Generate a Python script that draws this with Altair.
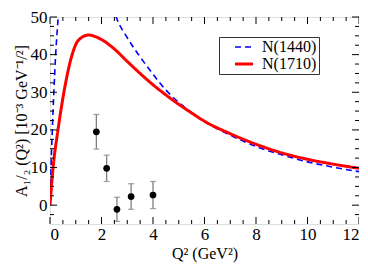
import altair as alt
import pandas as pd

# ---- data ----
q2_1440 = [0, 0.04, 0.09, 0.15, 0.22, 0.32, 0.5, 0.8, 1.2, 1.6, 2.0, 2.3, 2.57, 3.0, 3.5,
           4.0, 4.5, 5.0, 5.5, 6.0, 7.0, 8.0, 9.0, 10.0, 11.0, 12.0]
a_1440 = [0, 10, 20, 30, 40, 50, 64, 75, 78, 72, 63, 56, 50, 44.5, 39.4,
          34.8, 30.6, 27.3, 24.6, 22.2, 18.6, 15.6, 13.4, 11.5, 10.1, 8.9]

q2_1710 = [0, 0.12, 0.31, 0.54, 0.86, 1.1, 1.5, 2.0, 2.5, 3.0, 3.5, 4.0, 4.5, 5.0, 5.5,
           6.0, 7.0, 8.0, 9.0, 10.0, 11.0, 12.0]
a_1710 = [0, 10, 20, 30, 40, 43.8, 45.2, 44.0, 41.5, 38.2, 35.0, 32.0, 29.3, 26.8, 24.5,
          22.3, 19.0, 16.2, 13.9, 12.2, 10.9, 9.8]

exp_q2 = [1.8, 2.2, 2.6, 3.15, 4.0]
exp_a = [19.5, 9.8, -1.1, 2.3, 2.7]
exp_err = [4.6, 3.5, 3.2, 3.4, 3.6]

series_names = ["N(1440)", "N(1710)"]
x_major = [0, 2, 4, 6, 8, 10, 12]
x_minor = [0.5, 1, 1.5, 2.5, 3, 3.5, 4.5, 5, 5.5, 6.5, 7, 7.5, 8.5, 9, 9.5, 10.5, 11, 11.5]
y_major = [0, 10, 20, 30, 40, 50]
y_minor = [-2.5, 2.5, 5, 7.5, 12.5, 15, 17.5, 22.5, 25, 27.5, 32.5, 35, 37.5, 42.5, 45, 47.5]

W, H = 309, 207
FONT = "Liberation Serif"

curves = pd.concat([
    pd.DataFrame({"q2": q2_1440, "a": a_1440, "series": series_names[0]}),
    pd.DataFrame({"q2": q2_1710, "a": a_1710, "series": series_names[1]}),
])
exp = pd.DataFrame({"q2": exp_q2, "a": exp_a,
                    "lo": [a - e for a, e in zip(exp_a, exp_err)],
                    "hi": [a + e for a, e in zip(exp_a, exp_err)]})

xs = alt.Scale(domain=[0, 12], nice=False, zero=False)
ys = alt.Scale(domain=[-5, 50], nice=False, zero=False)

x_axis = alt.Axis(values=x_major, tickSize=0, domain=False, grid=False, labelFont=FONT,
                  labelFontSize=17, labelColor="black", labelPadding=2,
                  title="Q² (GeV²)", titleFont=FONT, titleFontSize=16,
                  titleFontWeight="normal", titleColor="black", titlePadding=3)
y_axis = alt.Axis(values=y_major, tickSize=0, domain=False, grid=False, labelFont=FONT,
                  labelFontSize=17, labelColor="black", labelPadding=3,
                  title="A₁/₂ (Q²) [10⁻³ GeV⁻¹/²]", titleFont=FONT, titleFontSize=16,
                  titleFontWeight="normal", titleColor="black", titlePadding=1)

lines = alt.Chart(curves).mark_line(clip=True, interpolate="monotone").encode(
    x=alt.X("q2:Q", scale=xs, axis=x_axis),
    y=alt.Y("a:Q", scale=ys, axis=y_axis),
    color=alt.Color("series:N", scale=alt.Scale(domain=series_names, range=["#0000ff", "#ff0000"]),
                    legend=alt.Legend(title=None, orient="none", legendX=169, legendY=20,
                                      symbolType="M-1.5,0H1.5", symbolSize=144,
                                      symbolOffset=15,
                                      labelFont=FONT, labelFontSize=16, labelColor="black",
                                      strokeColor="#333333", fillColor="white", padding=2,
                                      labelOffset=10, rowPadding=1)),
    strokeDash=alt.StrokeDash("series:N", scale=alt.Scale(domain=series_names, range=[[6, 4], [1, 0]])),
    strokeWidth=alt.StrokeWidth("series:N", scale=alt.Scale(domain=series_names, range=[1.6, 3])),
)

bars = alt.Chart(exp).mark_rule(color="#808080", strokeWidth=1.3).encode(
    x="q2:Q", y="lo:Q", y2="hi:Q")
caps_lo = alt.Chart(exp).mark_tick(color="#808080", orient="horizontal", size=6, thickness=1.3).encode(
    x="q2:Q", y="lo:Q")
caps_hi = alt.Chart(exp).mark_tick(color="#808080", orient="horizontal", size=6, thickness=1.3).encode(
    x="q2:Q", y="hi:Q")
pts = alt.Chart(exp).mark_point(filled=True, color="black", size=45, opacity=1, shape="circle").encode(
    x="q2:Q", y="a:Q")

def xticks(vals, ln):
    df = pd.DataFrame({"v": vals})
    b = alt.Chart(df).mark_rule(color="black", strokeWidth=1).encode(
        x="v:Q", y=alt.value(H), y2=alt.value(H - ln))
    t = alt.Chart(df).mark_rule(color="black", strokeWidth=1).encode(
        x="v:Q", y=alt.value(0), y2=alt.value(ln))
    return b + t

def yticks(vals, ln):
    df = pd.DataFrame({"v": vals})
    l = alt.Chart(df).mark_rule(color="black", strokeWidth=1).encode(
        y="v:Q", x=alt.value(0), x2=alt.value(ln))
    r = alt.Chart(df).mark_rule(color="black", strokeWidth=1).encode(
        y="v:Q", x=alt.value(W), x2=alt.value(W - ln))
    return l + r

chart = alt.layer(
    lines, bars, caps_lo, caps_hi, pts,
    xticks(x_major, 7), xticks(x_minor, 4), yticks(y_major, 7), yticks(y_minor, 4),
).properties(
    width=W, height=H,
    autosize=alt.AutoSizeParams(type="none"),
    padding={"left": 42, "top": 9, "right": 0, "bottom": 41},
).configure_view(stroke="black", strokeWidth=1.2).configure(background="white")

chart.save("out.html", embed_options={"renderer": "svg", "actions": False})
